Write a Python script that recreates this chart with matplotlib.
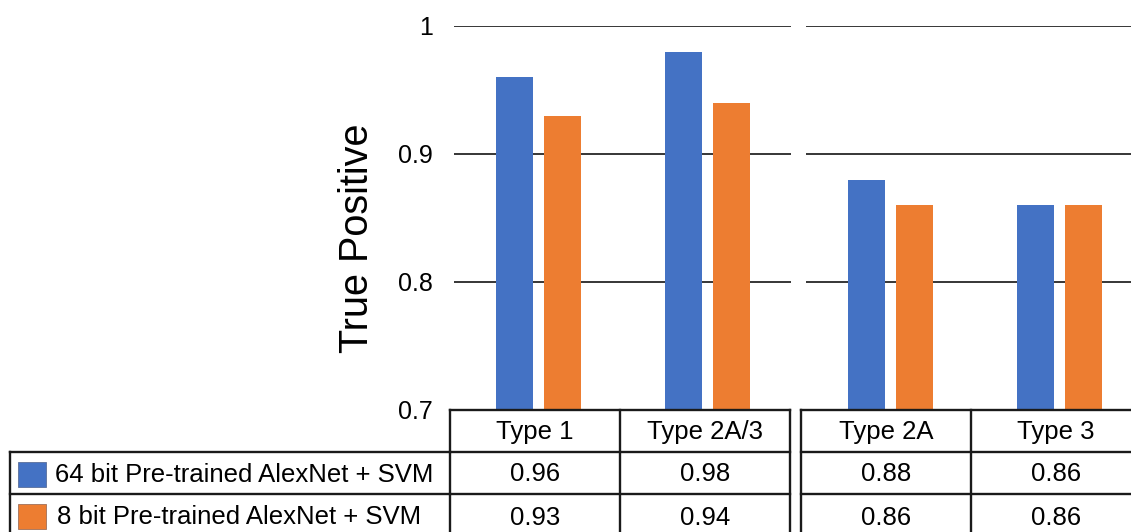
import matplotlib
matplotlib.use("Agg")
import matplotlib.pyplot as plt
from matplotlib.patches import Rectangle

plt.rcParams["font.family"] = ["Liberation Sans", "DejaVu Sans"]

# Data
groups_left = ["Type 1", "Type 2A/3"]
groups_right = ["Type 2A", "Type 3"]
series_names = ["64 bit Pre-trained AlexNet + SVM", "8 bit Pre-trained AlexNet + SVM"]
tp_64bit = [0.96, 0.98, 0.88, 0.86]
tp_8bit = [0.93, 0.94, 0.86, 0.86]
y_ticks = [0.7, 0.8, 0.9, 1.0]
y_tick_labels = ["0.7", "0.8", "0.9", "1"]

colors = ["#4472C4", "#ED7D31"]

W, H = 1131, 532
fig = plt.figure(figsize=(W / 100, H / 100), dpi=100)


def px_axes(x0, y0, x1, y1):
    """Create axes from pixel box (top-left origin)."""
    return fig.add_axes([x0 / W, 1 - y1 / H, (x1 - x0) / W, (y1 - y0) / H])


y_top, y_base = 26, 410
ax_l = px_axes(454, y_top, 791, y_base)
ax_r = px_axes(806, y_top, 1143, y_base)

bar_w = 0.22
offsets = [-0.14, 0.145]
series = [tp_64bit, tp_8bit]

for ax, sl in ((ax_l, slice(0, 2)), (ax_r, slice(2, 4))):
    ax.set_xlim(-0.5, 1.5)
    ax.set_ylim(0.7, 1.0)
    for gy in y_ticks[1:]:
        ax.axhline(gy, color="black", lw=1.1, zorder=1)
    for vals, off, c in zip(series, offsets, colors):
        ax.bar([i + off for i in range(2)], vals[sl], width=bar_w,
               color=c, zorder=2)
    for s in ax.spines.values():
        s.set_visible(False)
    ax.set_xticks([])
    ax.set_yticks([])

# y tick labels and axis title on the left panel
ax_l.set_yticks(y_ticks)
ax_l.set_yticklabels(y_tick_labels, fontsize=18)
ax_l.tick_params(axis="y", length=0, pad=15)
fig.text(357 / W, 1 - 238 / H, "True Positive", rotation=90, fontsize=28.5,
         ha="center", va="center")

# Data table drawn below the panels
tab = fig.add_axes([0, 0, 1, 1], zorder=5)
tab.set_xlim(0, W)
tab.set_ylim(H, 0)
tab.axis("off")
tab.patch.set_alpha(0)

line_kw = dict(color="#1a1a1a", lw=1.7, solid_capstyle="projecting")
row_y = [410, 452, 494, 540]
label_x0 = 10
blocks = [([450, 620, 790], groups_left, slice(0, 2)),
          ([801, 971, 1141], groups_right, slice(2, 4))]
fs_table = 18.5

# row label cells
tab.plot([label_x0, label_x0], [row_y[1], row_y[3]], **line_kw)
tab.plot([label_x0, 450], [row_y[1], row_y[1]], **line_kw)
tab.plot([label_x0, 450], [row_y[2], row_y[2]], **line_kw)

for cols, names, sl in blocks:
    for x in cols:
        tab.plot([x, x], [row_y[0], row_y[3]], **line_kw)
    for y in row_y[:3]:
        tab.plot([cols[0], cols[-1]], [y, y], **line_kw)
    for j, name in enumerate(names):
        cx = (cols[j] + cols[j + 1]) / 2
        tab.text(cx, (row_y[0] + row_y[1]) / 2 + 1, name, fontsize=fs_table,
                 ha="center", va="center")
        for r, vals in enumerate(series):
            v = vals[sl][j]
            tab.text(cx, (row_y[r + 1] + row_y[r + 2]) / 2 + 1, f"{v:.2f}",
                     fontsize=fs_table, ha="center", va="center")

for r, (name, c) in enumerate(zip(series_names, colors)):
    top = row_y[r + 1]
    yc = top + 22
    tab.add_patch(Rectangle((18, yc - 12.5), 28, 25, facecolor=c,
                            edgecolor="#5a6f9a" if r == 0 else "#a0705a",
                            lw=0.6))
    tab.text(55 if r == 0 else 57, yc + 1, name, fontsize=fs_table,
             ha="left", va="center")

fig.savefig("out.png", dpi=100, facecolor="white")
